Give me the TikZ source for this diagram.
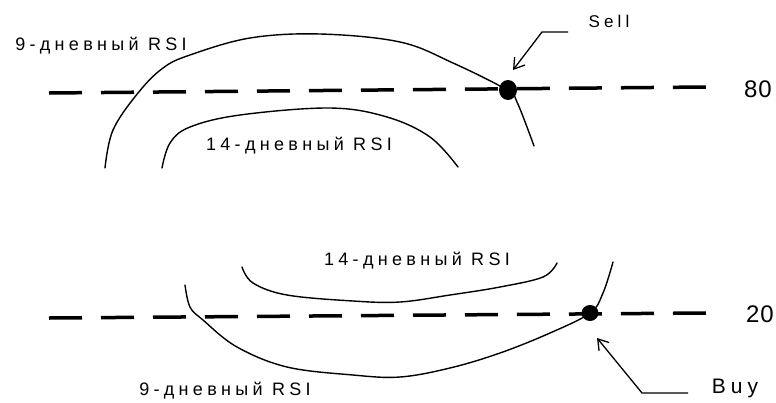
\documentclass[tikz,border=0pt]{standalone}
\usepackage{fontspec}
\setmainfont{Liberation Sans}
\newfontfamily\lab[LetterSpace=24]{Liberation Sans}
\newfontfamily\numf[LetterSpace=4]{Liberation Sans}
\usetikzlibrary{arrows.meta,shapes.geometric}
\begin{document}
\begin{tikzpicture}[x=1pt,y=-1pt,
  curve/.style={line width=1.4pt, line cap=round},
  level/.style={line width=3.5pt, dash pattern=on 33pt off 19pt},
  dotnode/.style={ellipse, fill=black, inner sep=0pt, minimum width=18pt, minimum height=20pt},
  lbl/.style={inner sep=0pt, anchor=base, font=\lab\fontsize{18}{20}\selectfont},
  numlbl/.style={inner sep=0pt, anchor=base, font=\numf\fontsize{24}{27}\selectfont},
  pointer/.style={line width=1.3pt, -{Straight Barb[length=10pt,width=13pt]}},
]
\useasboundingbox (0,0) rectangle (776,402);

% levels
\coordinate (t80a) at (49,93);
\coordinate (t80b) at (706,87);
\coordinate (t20a) at (49,318);
\coordinate (t20b) at (706,313);
\draw[level] (t80a) -- (t80b);
\draw[level] (t20a) -- (t20b);

% curves
\draw[curve] plot[smooth, tension=0.6] coordinates {(105,168) (113,130) (138,93) (163,68) (190,55) (250,38) (320,34) (400,42) (453,63) (507,90) (517,102) (534,146)};
\draw[curve] plot[smooth, tension=0.6] coordinates {(162,168) (170,143) (190,127) (240,115) (330,108) (387,117) (430,137) (458,167)};
\draw[curve] plot[smooth, tension=0.6] coordinates {(242,267) (253,283) (287,295) (353,301) (400,302) (450,295) (500,287) (543,277) (557,263)};
\draw[curve] plot[smooth, tension=0.6] coordinates {(185,285) (190,307) (203,320) (237,347) (287,367) (353,375) (400,377) (450,368) (500,353) (550,333) (590,313) (603,293) (613,262)};

% dots
\node[dotnode] (selldot) at (508,90) {};
\node[dotnode, minimum width=17pt, minimum height=16pt] (buydot) at (590,313) {};

% labels
\node[lbl] (l9top) at (101,50) {9-дневный RSI};
\node[lbl] (l14top) at (299,150) {14-дневный RSI};
\node[lbl] (l14bot) at (417,265) {14-дневный RSI};
\node[lbl] (l9bot) at (225,395) {9-дневный RSI};
\node[lbl, font=\lab\fontsize{17}{19}\selectfont] (sell) at (609,27) {Sell};
\node[lbl, font=\lab\fontsize{21}{24}\selectfont] (buy) at (735,393) {Buy};
\node[numlbl] (n80) at (758,97) {80};
\node[numlbl] (n20) at (760,322) {20};

% pointers
\coordinate (sellend) at (568,32);
\coordinate (sellbend) at (542,32);
\coordinate (selltip) at (513,70);
\draw[pointer] (sellend) -- (sellbend) -- (selltip);
\coordinate (buyend) at (688,393);
\coordinate (buybend) at (642,393);
\coordinate (buytip) at (597,338);
\draw[pointer] (buyend) -- (buybend) -- (buytip);
\end{tikzpicture}
\end{document}
